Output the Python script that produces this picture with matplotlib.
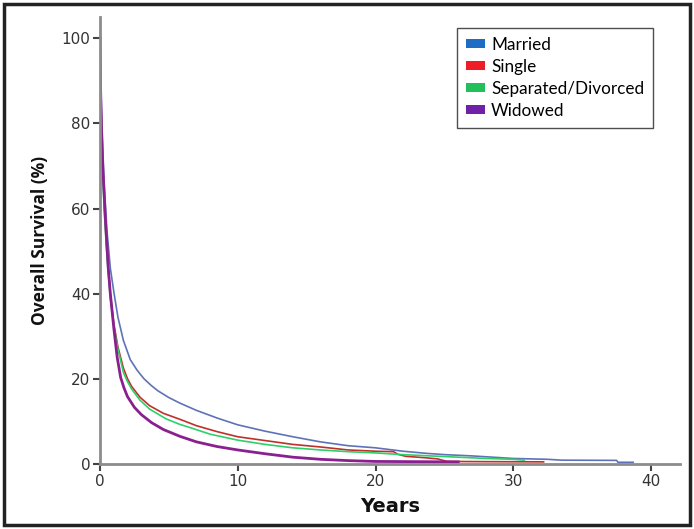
import matplotlib
matplotlib.use("Agg")
import matplotlib.pyplot as plt
from matplotlib.patches import Patch, Rectangle

# ---- data ----
married_t = [0, 0.05, 0.15, 0.3, 0.5, 0.75, 1.0, 1.3, 1.7, 2.2, 2.7, 3.2, 3.7, 4.2, 5.0, 5.8, 7, 8.5, 10, 12,
             14, 16, 18, 20, 21, 22, 23.7, 25, 27, 30, 32.5, 33.5, 37.5, 37.6, 38.7]
married_v = [100, 90, 78, 66, 55, 46, 40.5, 34.5, 29, 24.5, 22.0, 20.0, 18.5, 17.2, 15.6, 14.3, 12.6, 10.8, 9.2, 7.7,
             6.4, 5.2, 4.3, 3.8, 3.4, 3.0, 2.5, 2.2, 1.9, 1.3, 1.1, 0.9, 0.85, 0.4, 0.4]

single_t = [0, 0.05, 0.15, 0.3, 0.5, 0.75, 1.0, 1.3, 1.7, 2.0, 2.3, 2.9, 3.6, 4.6, 5.8, 7, 8.5, 10, 12, 14, 16, 18,
            20, 21.3, 21.6, 22.2, 23.5, 24.5, 25.2, 28, 32.2]
single_v = [100, 88, 74, 62, 50, 40, 33, 27.5, 22.5, 20.0, 18.2, 15.7, 13.7, 11.9, 10.5, 9.0, 7.6, 6.4, 5.5, 4.6, 4.0, 3.3,
            3.0, 2.9, 2.3, 1.8, 1.5, 1.2, 0.6, 0.55, 0.5]

separated_t = [0, 0.05, 0.15, 0.3, 0.5, 0.75, 1.0, 1.3, 1.7, 2.0, 2.3, 2.9, 3.6, 4.8, 5.8, 6.4, 8, 10, 12, 14, 16, 18,
               20, 22, 24, 26, 28, 30, 30.8]
separated_v = [100, 87, 72, 60, 49, 39, 32.5, 27, 21.5, 19.3, 17.6, 15.0, 12.9, 10.6, 9.3, 8.7, 7.0, 5.6, 4.6, 3.8, 3.3, 2.9,
               2.6, 2.2, 1.9, 1.6, 1.3, 1.1, 0.9]

widowed_t = [0, 0.03, 0.1, 0.2, 0.4, 0.6, 0.75, 1.0, 1.25, 1.5, 1.75, 2.0, 2.5, 3.0, 3.75, 4.6, 5.8, 7, 8.5, 10, 12, 14,
             16, 18, 20, 23, 26]
widowed_v = [100, 90, 80, 70, 57, 46, 40, 32, 25, 20.3, 17.8, 15.8, 13.3, 11.6, 9.7, 8.1, 6.5, 5.2, 4.1, 3.3, 2.4, 1.6,
             1.1, 0.8, 0.6, 0.55, 0.5]

labels = ["Married", "Single", "Separated/Divorced", "Widowed"]
x_ticks = [0, 10, 20, 30, 40]
y_ticks = [0, 20, 40, 60, 80, 100]

line_colors = ["#5f72b8", "#c0302a", "#2fcf6a", "#8a2090"]
patch_colors = ["#1f6cc4", "#ee1c24", "#22bf5a", "#6f22a6"]

fig = plt.figure(figsize=(6.94, 5.29), dpi=100)
ax = fig.add_axes([100/694, 1 - 464/529, 580/694, 447/529])

series = [(married_t, married_v), (single_t, single_v), (separated_t, separated_v), (widowed_t, widowed_v)]
widths = [1.2, 1.2, 1.2, 2.0]
for (t, v), c, lw in zip(series, line_colors, widths):
    ax.plot(t, v, color=c, lw=lw, solid_joinstyle="round")

ax.set_xlim(0, 42.1)
ax.set_ylim(0, 105)
ax.set_xticks(x_ticks)
ax.set_yticks(y_ticks)
for s in ["top", "right"]:
    ax.spines[s].set_visible(False)
for s in ["left", "bottom"]:
    ax.spines[s].set_color("#8c8c8c")
    ax.spines[s].set_linewidth(2)
ax.tick_params(direction="out", length=5, width=1.5, color="#444444", labelcolor="#333333",
               labelsize=11, pad=2)

ax.set_xlabel("Years", fontsize=14, fontweight="bold", labelpad=6, color="#111111")
ax.set_ylabel("Overall Survival (%)", fontsize=12.5, fontweight="bold", labelpad=9, color="#111111",
              family="Open Sans")

handles = [Patch(facecolor=c, edgecolor="none") for c in patch_colors]
leg = fig.legend(handles, labels, loc="upper left", bbox_to_anchor=(457/694, 1 - 28/529),
                 borderaxespad=0, frameon=True, fancybox=False, edgecolor="#222222",
                 handlelength=1.15, handleheight=0.45, handletextpad=0.35, labelspacing=0.36,
                 borderpad=0.5, prop={"family": "Lato", "size": 12.3})
leg.get_frame().set_linewidth(1.0)

# outer border
fig.patches.append(Rectangle((4/694, 4/529), 1 - 8/694, 1 - 8/529, transform=fig.transFigure,
                             fill=False, edgecolor="#222222", linewidth=2.5))

fig.savefig("out.png", dpi=100)
